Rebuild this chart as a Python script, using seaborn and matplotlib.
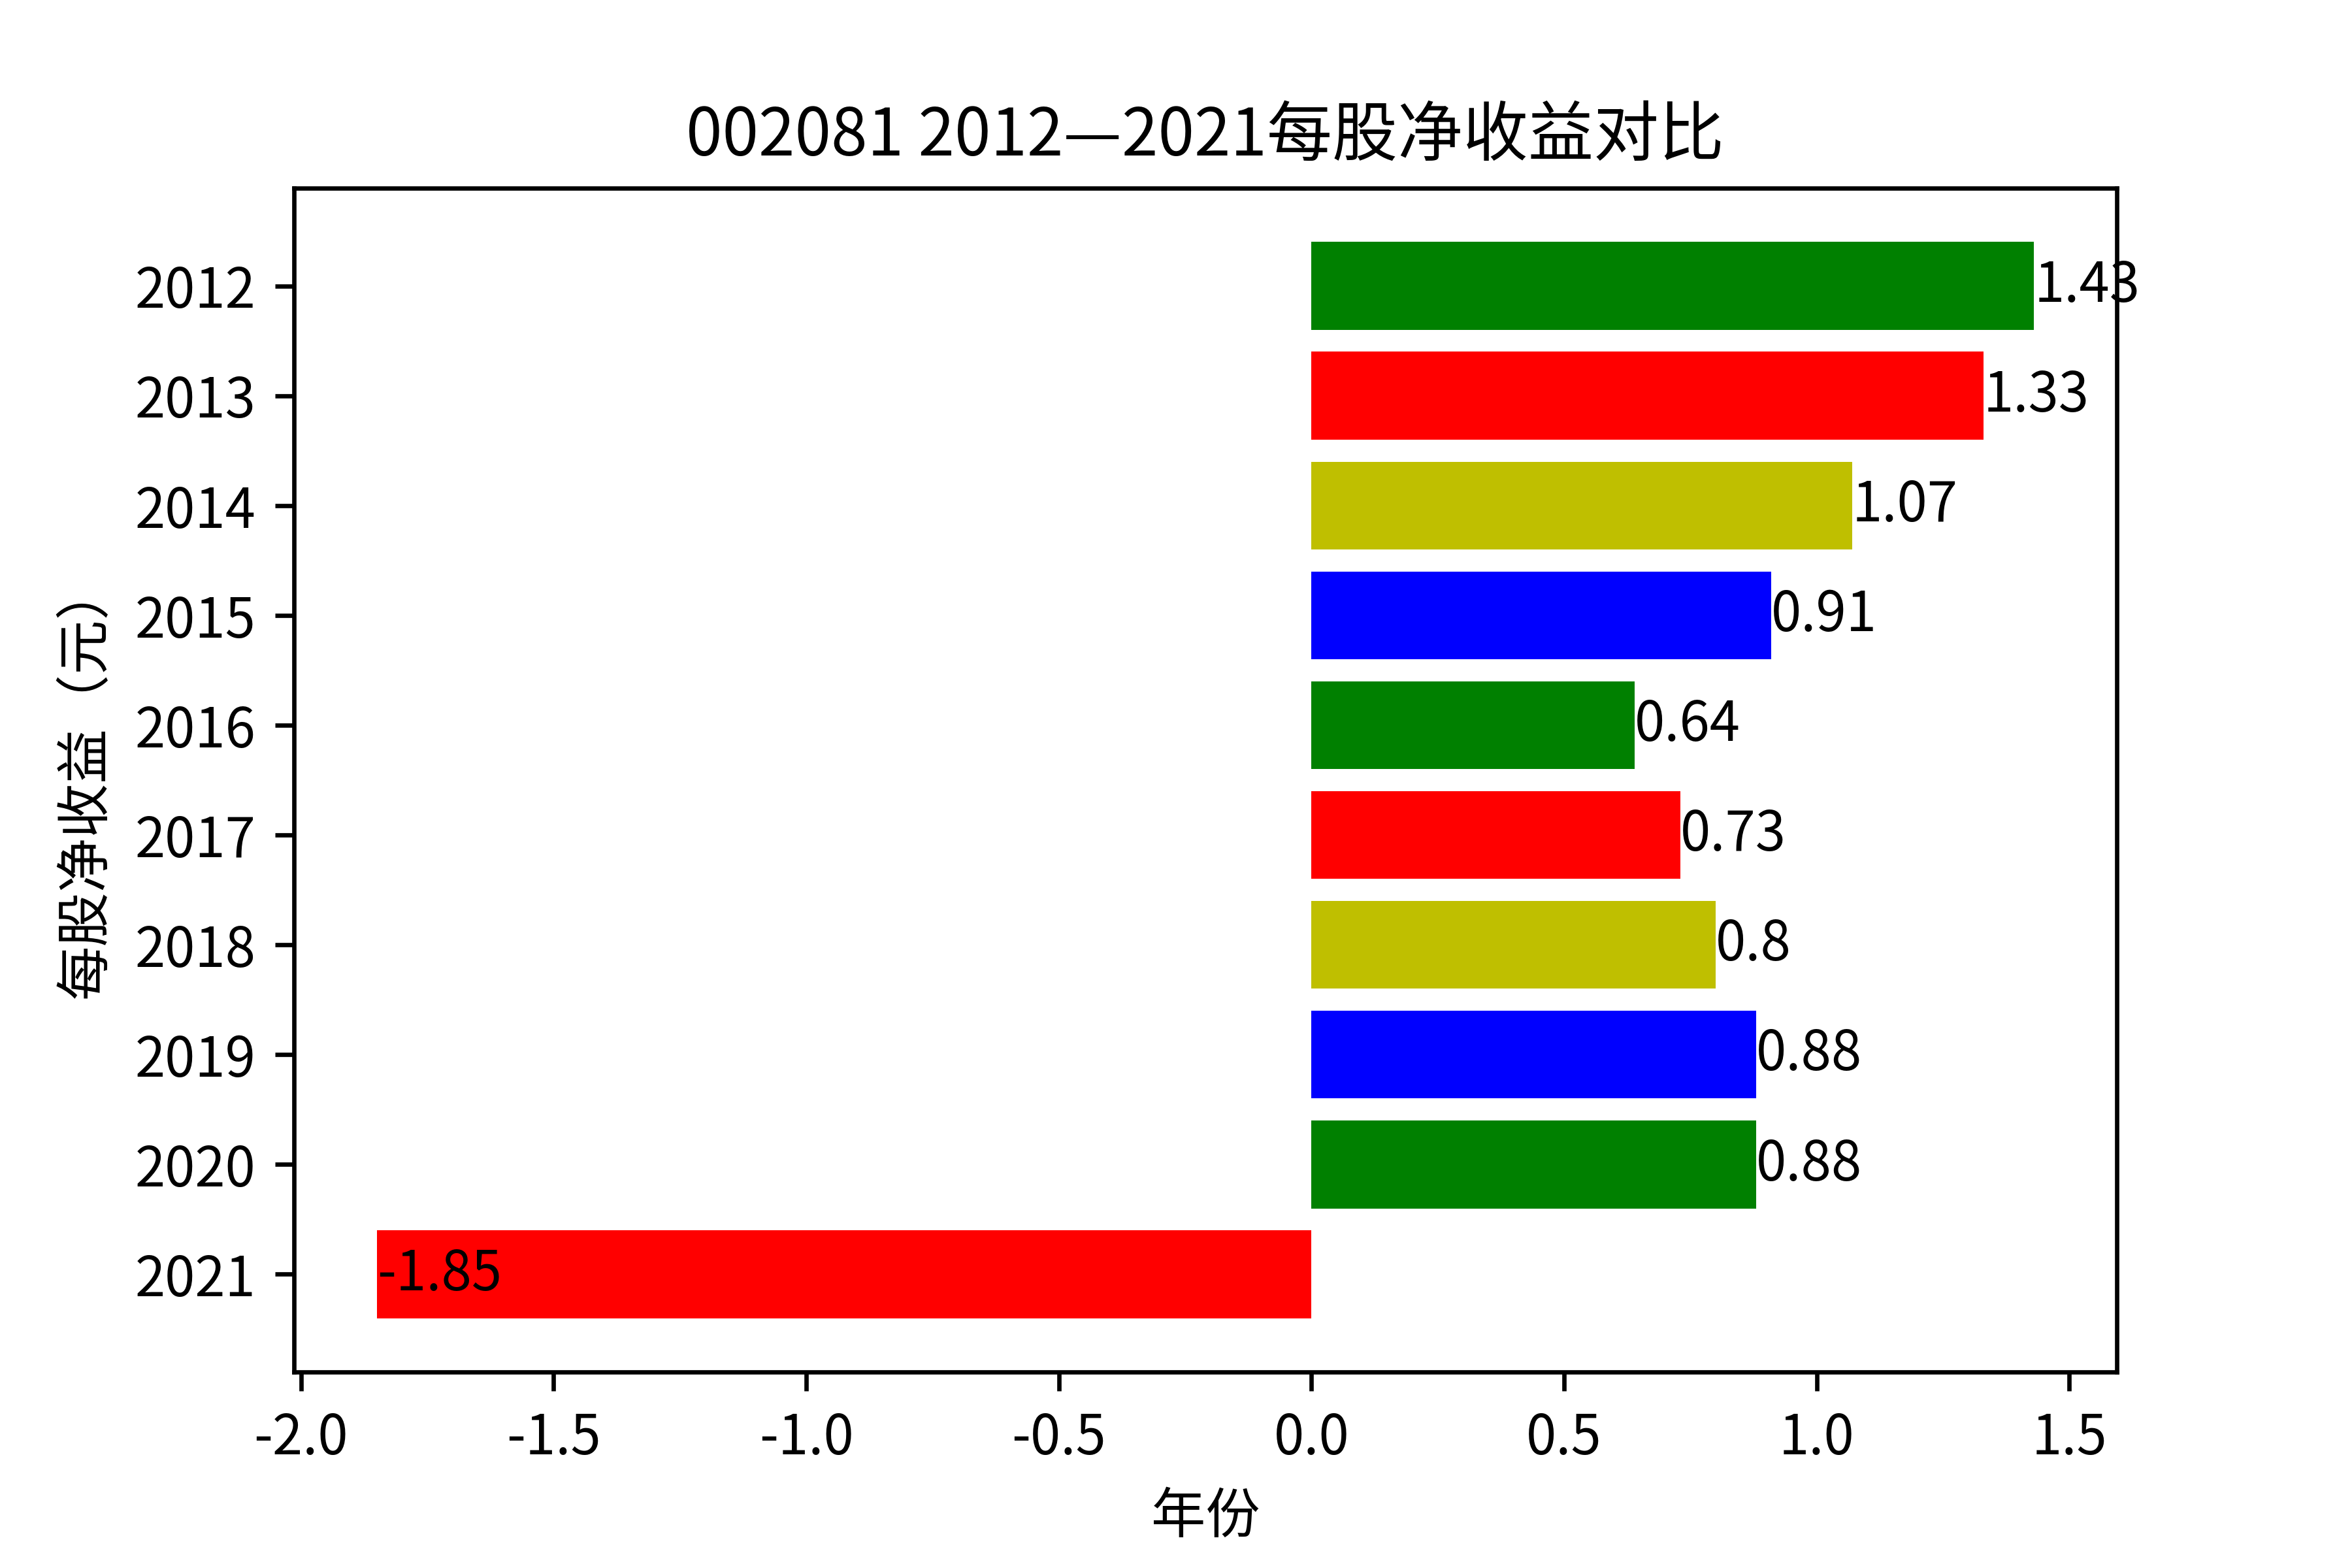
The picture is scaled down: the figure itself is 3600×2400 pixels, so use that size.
"""
Horizontal bar chart of EPS per year for stock 002081.
"""
import matplotlib
matplotlib.use("Agg")
import matplotlib.pyplot as plt
import seaborn as sns
import pandas as pd

# chart data
years = ["2012", "2013", "2014", "2015", "2016", "2017", "2018", "2019", "2020", "2021"]
eps = [1.43, 1.33, 1.07, 0.91, 0.64, 0.73, 0.8, 0.88, 0.88, -1.85]
bar_colors = ["g", "r", "y", "b", "g", "r", "y", "b", "g", "r"]

title = "002081 2012—2021每股净收益对比"
x_label = "年份"
y_label = "每股净收益（元）"

plt.rcParams["font.family"] = ["Noto Sans CJK SC", "DejaVu Sans"]
plt.rcParams["axes.unicode_minus"] = False

df = pd.DataFrame({"year": years, "eps": eps})

fig, ax = plt.subplots(figsize=(6, 4), dpi=600)
fig.subplots_adjust(left=0.125, right=0.9, top=0.88, bottom=0.125)

sns.barplot(data=df, x="eps", y="year", hue="year", palette=bar_colors,
            order=years, hue_order=years, orient="h", width=0.8,
            saturation=1, legend=False, ax=ax)

# value labels at the end of each bar
for i, v in enumerate(eps):
    ax.text(v, i, str(v), ha="left", va="center", fontsize=10)

# matplotlib-like default margins on both axes
n = len(years)
ax.set_ylim(n - 1 + 0.4 + 0.05 * (n - 0.2), -0.4 - 0.05 * (n - 0.2))
span = max(eps) - min(eps)
ax.set_xlim(min(eps) - 0.05 * span, max(eps) + 0.05 * span)

ax.set_title(title, fontsize=12)
ax.set_xlabel(x_label)
ax.set_ylabel(y_label)

plt.savefig("out.png", dpi=600)
